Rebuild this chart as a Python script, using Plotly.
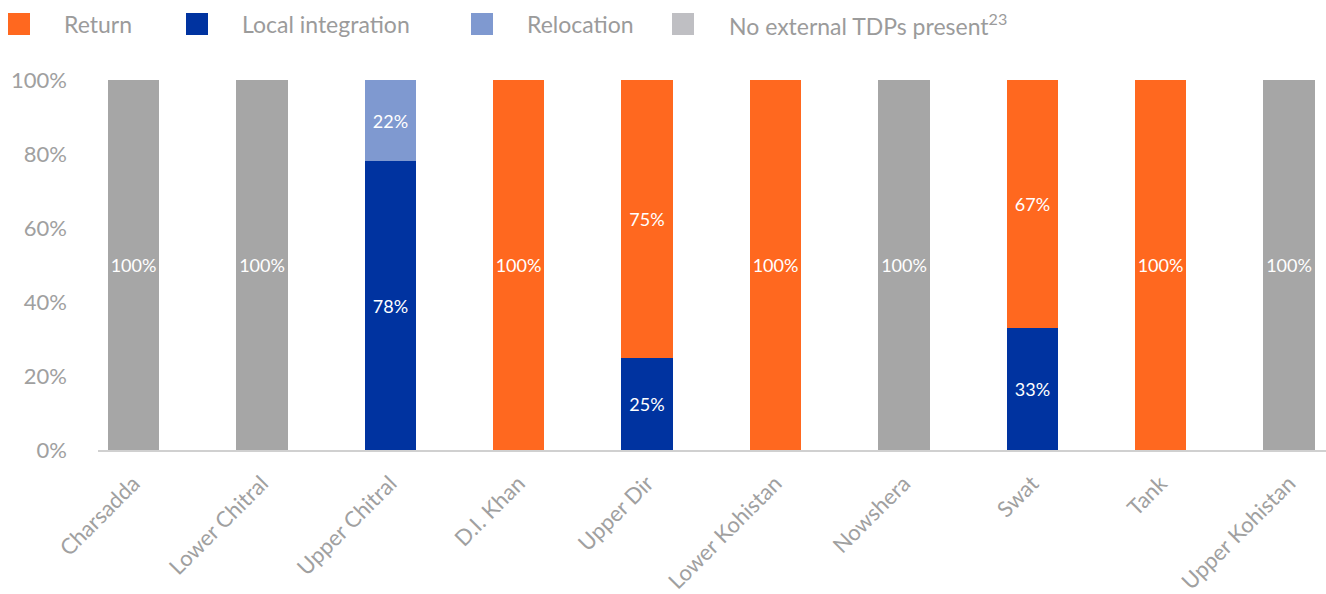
import plotly.graph_objects as go

districts = ["Charsadda", "Lower Chitral", "Upper Chitral", "D.I. Khan", "Upper Dir",
             "Lower Kohistan", "Nowshera", "Swat", "Tank", "Upper Kohistan"]
local_integration = [0, 0, 78, 0, 25, 0, 0, 33, 0, 0]
return_ = [0, 0, 0, 100, 75, 100, 0, 67, 100, 0]
relocation = [0, 0, 22, 0, 0, 0, 0, 0, 0, 0]
no_external = [100, 100, 0, 0, 0, 0, 100, 0, 0, 100]
y_ticks = [0, 20, 40, 60, 80, 100]

W, H = 1326, 594
L, R, T, B = 98, 0, 80, 144
PW, PH = W - L - R, H - T - B
FONT = "Lato"
GRAY_TXT = "#A0A0A0"

series = [
    ("Local integration", local_integration, "#0033A0"),
    ("Return", return_, "#FF681F"),
    ("Relocation", relocation, "#7F99D0"),
    ("No external TDPs present<sup>23</sup>", no_external, "#A6A6A6"),
]

fig = go.Figure()
for name, vals, col in series:
    fig.add_trace(go.Bar(
        x=districts, y=[v if v else None for v in vals], name=name,
        marker=dict(color=col, line=dict(width=0)),
        width=0.4,
        text=[f"{v}%" if v else None for v in vals],
        textposition="inside", insidetextanchor="middle", textangle=0,
        constraintext="none",
        textfont=dict(family=FONT, size=18, color="white"),
        showlegend=False,
    ))

fig.update_layout(
    barmode="stack", width=W, height=H,
    margin=dict(l=L, r=R, t=T, b=B),
    paper_bgcolor="white", plot_bgcolor="white",
    font=dict(family=FONT, color=GRAY_TXT, size=22),
    bargap=0,
)
fig.update_xaxes(
    range=[-0.2765, 9.2875], tickangle=-45, showgrid=False,
    showline=True, linecolor="#D0D0D0", linewidth=2,
    tickfont=dict(family=FONT, size=22, color=GRAY_TXT), ticks="",
    ticklabelstandoff=10,
)
fig.update_yaxes(
    range=[0, 100], tickvals=y_ticks, ticktext=[f"{v}%" for v in y_ticks],
    showgrid=False, zeroline=False, showline=False, ticks="",
    tickfont=dict(family=FONT, size=22, color=GRAY_TXT), ticklabelstandoff=30,
)

# Legend (top) drawn manually
def px_x(p):
    return (p - L) / PW

def px_y(p):
    return (H - B - p) / PH

legend_items = [
    ("Return", "#FF681F", 8, 62),
    ("Local integration", "#0033A0", 186, 240),
    ("Relocation", "#7F99D0", 471, 525),
    ("No external TDPs present<sup>23</sup>", "#BFBFC3", 672, 727),
]
for text, col, sq_x, tx_x in legend_items:
    fig.add_shape(type="rect", xref="paper", yref="paper",
                  x0=px_x(sq_x), x1=px_x(sq_x + 22), y0=px_y(35), y1=px_y(13),
                  fillcolor=col, line=dict(width=0))
    fig.add_annotation(text=text, xref="paper", yref="paper",
                       x=px_x(tx_x), y=px_y(24), xanchor="left", yanchor="middle",
                       showarrow=False, font=dict(family=FONT, size=23, color="#9B9B9B"))

fig.write_html("out.html")
